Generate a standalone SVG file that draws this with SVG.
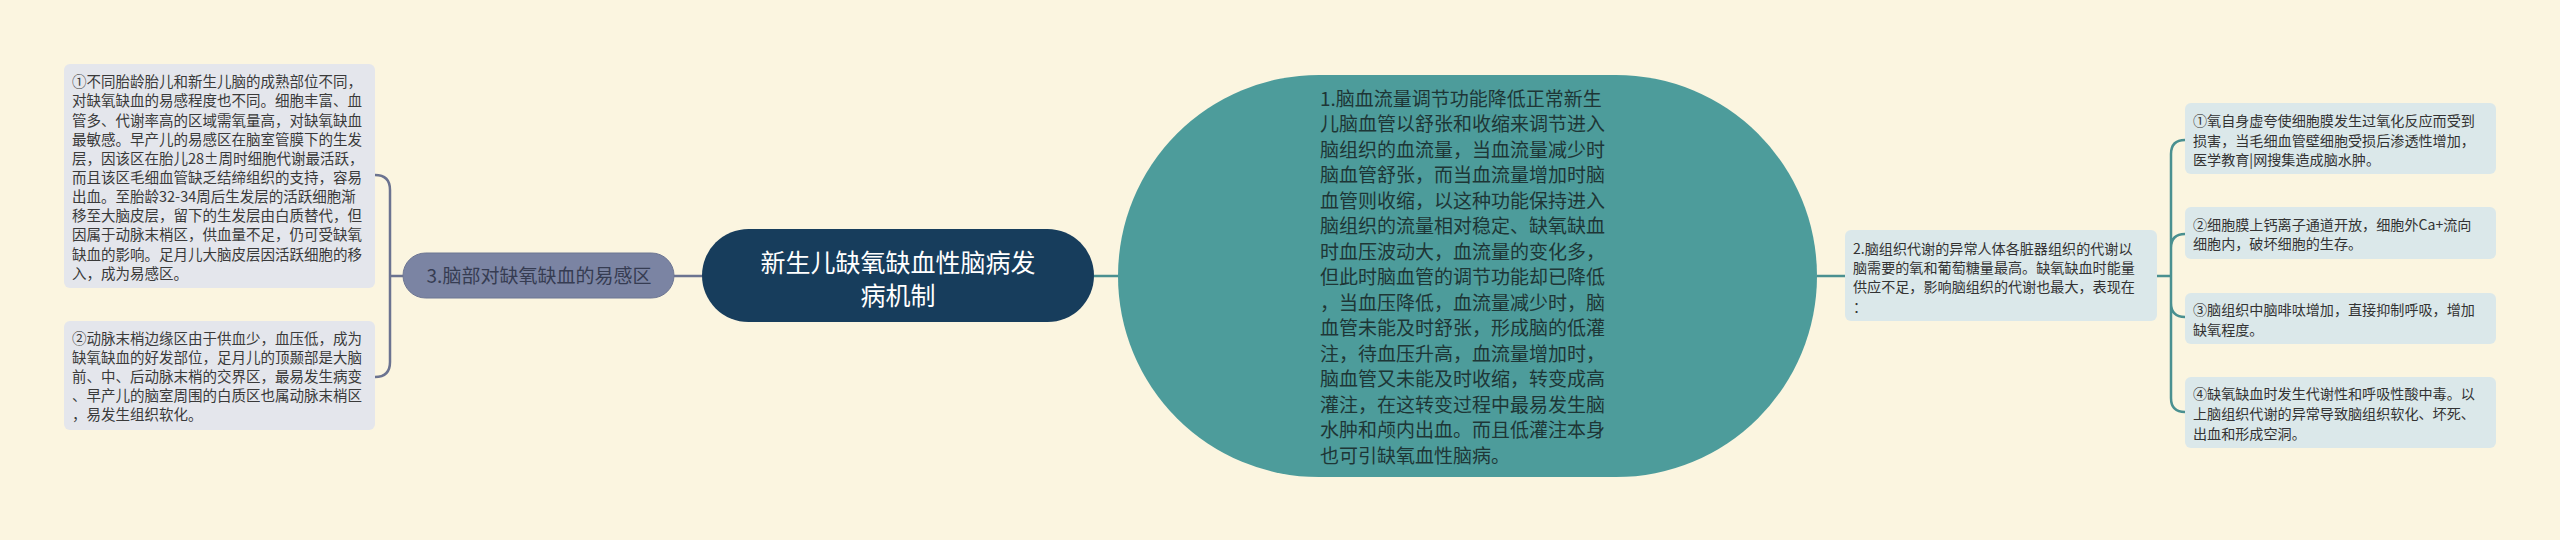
<svg xmlns="http://www.w3.org/2000/svg" width="2560" height="540" viewBox="0 0 2560 540">
<style>
.t{font-family:"Noto Sans CJK SC","Noto Sans",sans-serif;}
.lb{fill:#e4e6ec;}
.rb{fill:#dbe8ea;}
.lt{font-size:14.5px;fill:#3a3a3a;}
.rt{font-size:14.1px;fill:#333333;}
.tt{font-size:19px;fill:#1e3636;}
.cl{fill:none;stroke:#6b7390;stroke-width:2.5;}
.cr{fill:none;stroke:#4a9090;stroke-width:2.5;}
</style>
<rect x="0" y="0" width="2560" height="540" fill="#fbf5e0"/>
<g id="connectors">
<path class="cl" d="M375 175 Q390 175 390 190 L390 362 Q390 377 375 377 M390 276 L403 276"/>
<path class="cl" d="M674 276 L702 276"/>
<path class="cr" d="M1094 276 L1118 276"/>
<path class="cr" d="M1817 276 L1845 276"/>
<path class="cr" d="M2157 276 L2171 276 M2185 140 Q2171 140 2171 154 L2171 398 Q2171 412 2185 412 M2171 248 Q2171 234 2185 234 M2171 303 Q2171 317 2185 317"/>
</g>
<g id="center">
<rect x="702" y="229" width="392" height="93" rx="46.5" fill="#173d5c"/>
<text class="t" x="898" y="271.5" font-size="25" fill="#ffffff" text-anchor="middle">新生儿缺氧缺血性脑病发</text>
<text class="t" x="898" y="304.5" font-size="25" fill="#ffffff" text-anchor="middle">病机制</text>
</g>
<g id="node3">
<rect x="403" y="253" width="271" height="45" rx="22.5" fill="#7b84a3" stroke="#6d7693" stroke-width="1"/>
<text class="t" x="539" y="283" font-size="19" fill="#363c52" text-anchor="middle">3.脑部对缺氧缺血的易感区</text>
</g>
<g id="left1">
<rect class="lb" x="64" y="64" width="311" height="224" rx="6"/>
<text class="t lt" x="72">
<tspan x="72" y="87.2">①不同胎龄胎儿和新生儿脑的成熟部位不同，</tspan>
<tspan x="72" y="106.3">对缺氧缺血的易感程度也不同。细胞丰富、血</tspan>
<tspan x="72" y="125.5">管多、代谢率高的区域需氧量高，对缺氧缺血</tspan>
<tspan x="72" y="144.6">最敏感。早产儿的易感区在脑室管膜下的生发</tspan>
<tspan x="72" y="163.8">层，因该区在胎儿28±周时细胞代谢最活跃，</tspan>
<tspan x="72" y="182.9">而且该区毛细血管缺乏结缔组织的支持，容易</tspan>
<tspan x="72" y="202.1">出血。至胎龄32-34周后生发层的活跃细胞渐</tspan>
<tspan x="72" y="221.2">移至大脑皮层，留下的生发层由白质替代，但</tspan>
<tspan x="72" y="240.4">因属于动脉末梢区，供血量不足，仍可受缺氧</tspan>
<tspan x="72" y="259.5">缺血的影响。足月儿大脑皮层因活跃细胞的移</tspan>
<tspan x="72" y="278.7">入，成为易感区。</tspan>
</text>
</g>
<g id="left2">
<rect class="lb" x="64" y="321" width="311" height="109" rx="6"/>
<text class="t lt" x="72">
<tspan x="72" y="343.5">②动脉末梢边缘区由于供血少，血压低，成为</tspan>
<tspan x="72" y="362.7">缺氧缺血的好发部位，足月儿的顶颞部是大脑</tspan>
<tspan x="72" y="381.9">前、中、后动脉末梢的交界区，最易发生病变</tspan>
<tspan x="72" y="401.1">、早产儿的脑室周围的白质区也属动脉末梢区</tspan>
<tspan x="72" y="420.3">，易发生组织软化。</tspan>
</text>
</g>
<g id="node1">
<rect x="1118" y="75" width="699" height="402" rx="201" fill="#4d9c9b"/>
<text class="t tt" x="1320">
<tspan x="1320" y="105.5">1.脑血流量调节功能降低正常新生</tspan>
<tspan x="1320" y="131">儿脑血管以舒张和收缩来调节进入</tspan>
<tspan x="1320" y="156.5">脑组织的血流量，当血流量减少时</tspan>
<tspan x="1320" y="182">脑血管舒张，而当血流量增加时脑</tspan>
<tspan x="1320" y="207.5">血管则收缩，以这种功能保持进入</tspan>
<tspan x="1320" y="233">脑组织的流量相对稳定、缺氧缺血</tspan>
<tspan x="1320" y="258.5">时血压波动大，血流量的变化多，</tspan>
<tspan x="1320" y="284">但此时脑血管的调节功能却已降低</tspan>
<tspan x="1320" y="309.5">，当血压降低，血流量减少时，脑</tspan>
<tspan x="1320" y="335">血管未能及时舒张，形成脑的低灌</tspan>
<tspan x="1320" y="360.5">注，待血压升高，血流量增加时，</tspan>
<tspan x="1320" y="386">脑血管又未能及时收缩，转变成高</tspan>
<tspan x="1320" y="411.5">灌注，在这转变过程中最易发生脑</tspan>
<tspan x="1320" y="437">水肿和颅内出血。而且低灌注本身</tspan>
<tspan x="1320" y="462.5">也可引缺氧血性脑病。</tspan>
</text>
</g>
<g id="node2">
<rect class="rb" x="1845" y="230" width="312" height="91" rx="6"/>
<text class="t rt" x="1853">
<tspan x="1853" y="253.6">2.脑组织代谢的异常人体各脏器组织的代谢以</tspan>
<tspan x="1853" y="272.9">脑需要的氧和葡萄糖量最高。缺氧缺血时能量</tspan>
<tspan x="1853" y="292.2">供应不足，影响脑组织的代谢也最大，表现在</tspan>
<tspan x="1853" y="311.5">：</tspan>
</text>
</g>
<g id="r1">
<rect class="rb" x="2185" y="103" width="311" height="71" rx="6"/>
<text class="t rt" x="2193">
<tspan x="2193" y="126">①氧自身虚夸使细胞膜发生过氧化反应而受到</tspan>
<tspan x="2193" y="145.6">损害，当毛细血管壁细胞受损后渗透性增加，</tspan>
<tspan x="2193" y="165.2">医学教育|网搜集造成脑水肿。</tspan>
</text>
</g>
<g id="r2">
<rect class="rb" x="2185" y="207" width="311" height="52" rx="6"/>
<text class="t rt" x="2193">
<tspan x="2193" y="229.6">②细胞膜上钙离子通道开放，细胞外Ca+流向</tspan>
<tspan x="2193" y="249.2">细胞内，破坏细胞的生存。</tspan>
</text>
</g>
<g id="r3">
<rect class="rb" x="2185" y="293" width="311" height="51" rx="6"/>
<text class="t rt" x="2193">
<tspan x="2193" y="315.3">③脑组织中脑啡呔增加，直接抑制呼吸，增加</tspan>
<tspan x="2193" y="334.9">缺氧程度。</tspan>
</text>
</g>
<g id="r4">
<rect class="rb" x="2185" y="377" width="311" height="71" rx="6"/>
<text class="t rt" x="2193">
<tspan x="2193" y="399.3">④缺氧缺血时发生代谢性和呼吸性酸中毒。以</tspan>
<tspan x="2193" y="418.9">上脑组织代谢的异常导致脑组织软化、坏死、</tspan>
<tspan x="2193" y="438.5">出血和形成空洞。</tspan>
</text>
</g>
</svg>
